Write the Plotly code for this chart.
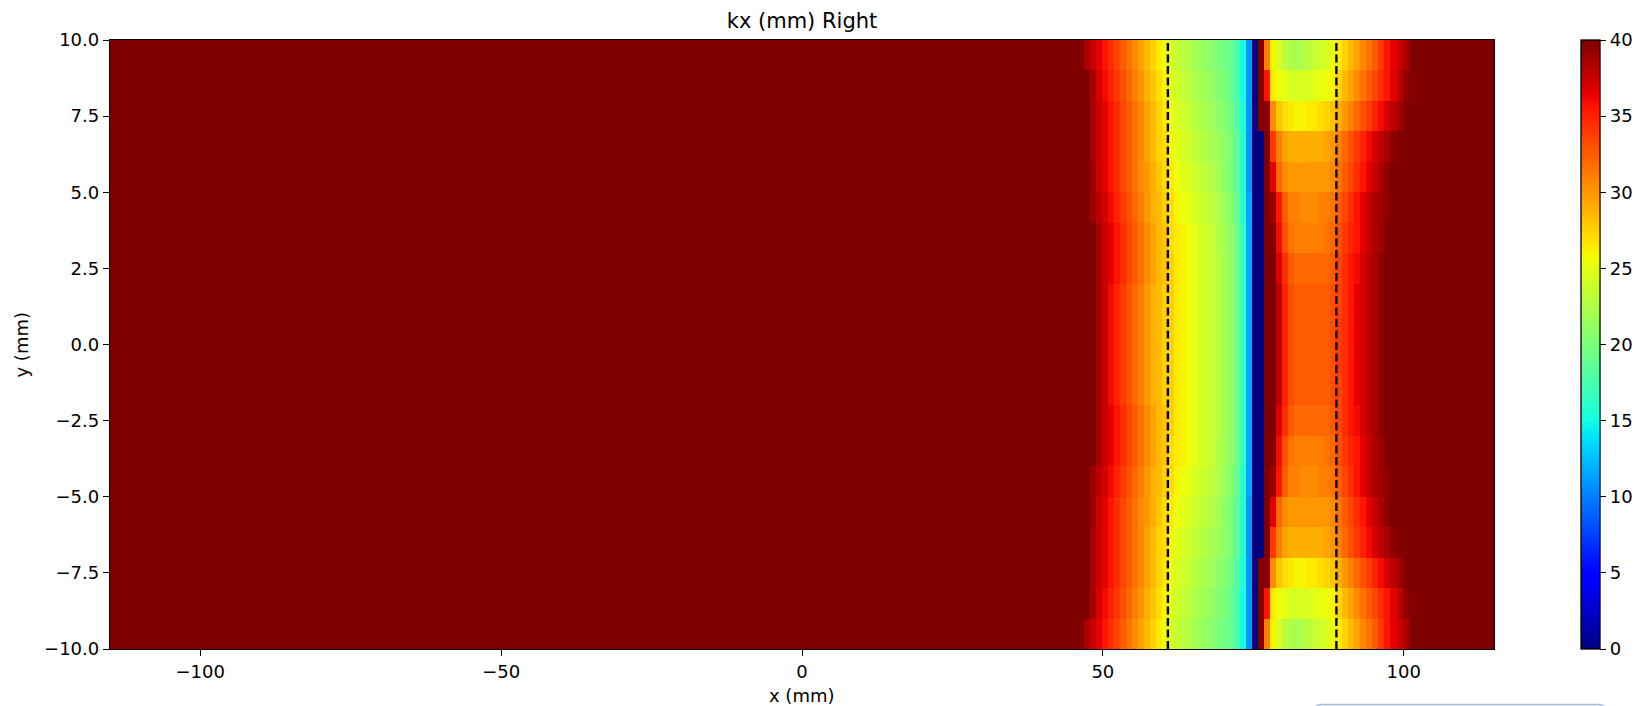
import numpy as np
import plotly.graph_objects as go

# ---------------- text ----------------
title_text = "kx (mm) Right"
x_label = "x (mm)"
y_label = "y (mm)"

x_tick_vals = [-100, -50, 0, 50, 100]
x_tick_text = ["\u2212100", "\u221250", "0", "50", "100"]
y_tick_vals = [-10, -7.5, -5, -2.5, 0, 2.5, 5, 7.5, 10]
y_tick_text = ["\u221210.0", "\u22127.5", "\u22125.0", "\u22122.5", "0.0", "2.5", "5.0", "7.5", "10.0"]
cbar_tick_vals = [0, 5, 10, 15, 20, 25, 30, 35, 40]

x_range = [-115, 115]
y_range = [-10, 10]
z_min, z_max = 0, 40

# vertical dashed markers (mm)
dashed_lines_x = [60.8, 88.8]

# ---------------- data ----------------
# value outside the band (saturated, dark red)
background_value = 40
# first column (mm) of the explicit band values below; columns are 1 mm wide
band_first_col = 46

# explicit values for columns 46 .. 102, rows from top edge (y=9.5) to centre (y=0.5)
row_y9_5 = [40, 38.5, 37.5, 36.5, 35.5, 34.5, 33.5, 32.5, 31.5, 30.5, 29.5, 28.5, 27.5, 26.5, 25.5,
            24.5, 23.5, 23, 22.5, 22, 21.5, 21, 20.5, 20, 19.5, 19, 17.5, 15, 11,
            0, 40, 31,
            26, 24.5, 23, 22.5, 22, 22.5, 23, 23.5, 24, 24.5, 25.5, 26.5, 27.5, 28.5, 29.5, 30.5, 31.5, 32.5,
            34, 35.5, 36.5, 37.5, 38.5, 40, 40]
row_y8_5 = [40, 40, 38.5, 37, 36, 35, 34, 33, 32, 31, 30, 29, 28, 27, 26,
            25, 24, 23.5, 23, 22.5, 22, 21.5, 21, 20.5, 20, 19, 17.5, 15, 11,
            0, 40, 35.5,
            26.5, 25.5, 25, 24.5, 24.5, 24.5, 24.5, 25, 25, 25.5, 26, 27.5, 28.5, 29.5, 30.5, 31.5, 32.5, 33.5,
            34.5, 35.5, 36.5, 38, 39.5, 40, 40]
row_y7_5 = [40, 40, 38.5, 37.5, 36.5, 35.5, 34.5, 33.5, 32.5, 31.5, 30.5, 29.5, 28.5, 27.5, 26.5,
            25.5, 24.5, 24, 23.5, 23, 22.5, 22, 21.5, 21, 20.5, 19.5, 18, 15.5, 11,
            0, 40, 39.5,
            30.5, 28, 27, 26.5, 26, 26, 26.5, 26.5, 27, 27.5, 28, 29, 30, 31, 32, 33, 34, 35,
            36, 37, 38, 39, 40, 40, 40]
row_y6_5 = [40, 40, 38.5, 37.5, 36.5, 35.5, 34.5, 33.5, 32.5, 31.5, 30.5, 29.5, 28.5, 27.5, 27,
            26, 25, 24.5, 24, 23.5, 23, 22.5, 22, 21.5, 21, 20, 18.5, 16, 11,
            0, 0, 40,
            34, 31, 29.5, 29, 29, 29, 29, 29, 29, 29.5, 30, 31, 32, 33, 34, 35, 36, 37,
            38, 38.5, 39.5, 40, 40, 40, 40]
row_y5_5 = [40, 40, 39, 37.5, 36.5, 35.5, 34.5, 33.5, 32.5, 31.5, 30.5, 30, 29, 28, 27,
            26.5, 25.5, 25, 24.5, 24, 23.5, 23, 22.5, 22, 21, 20, 18.5, 16, 11,
            0, 0, 40,
            36.5, 32, 30.5, 30, 30, 30, 30, 30, 30, 30, 30.5, 31.5, 32.5, 33.5, 34.5, 35.5, 36.5, 37.5,
            38.5, 39.5, 40, 40, 40, 40, 40]
row_y4_5 = [40, 40, 39, 38, 37, 36, 35, 34, 33, 32, 31, 30, 29, 28.5, 27.5,
            27, 26, 25.5, 25, 24.5, 24, 23.5, 23, 22.5, 21.5, 20.5, 19, 16, 11.5,
            0, 0, 40,
            39, 35.5, 32.5, 31, 31, 30.5, 30.5, 30.5, 31, 31, 31.5, 32.5, 33.5, 34.5, 35.5, 36.5, 37.5, 38.5,
            39, 39.5, 40, 40, 40, 40, 40]
row_y3_5 = [40, 40, 40, 38.5, 37.5, 36.5, 35.5, 34.5, 33.5, 32.5, 31.5, 30.5, 29.5, 28.5, 28,
            27, 26.5, 26, 25.5, 25, 24.5, 24, 23.5, 22.5, 22, 21, 19.5, 16.5, 11.5,
            0, 0, 40,
            40, 36, 33, 31.5, 31, 31, 31, 31, 31, 31.5, 32, 33, 34, 35, 35.5, 36.5, 37.5, 38.5,
            39, 40, 40, 40, 40, 40, 40]
row_y2_5 = [40, 40, 40, 38.5, 37.5, 36.5, 35.5, 34.5, 33.5, 32.5, 31.5, 30.5, 29.5, 28.5, 28,
            27.5, 26.5, 26, 25.5, 25, 24.5, 24, 23.5, 23, 22, 21, 19.5, 16.5, 11.5,
            0, 0, 40,
            40, 37, 34.5, 32.5, 32, 32, 32, 32, 32, 32, 32.5, 33.5, 34.5, 35.5, 36, 37, 38, 38.5,
            39.5, 40, 40, 40, 40, 40, 40]
row_y1_5 = [40, 40, 40, 38.5, 37.5, 36, 35, 34, 33, 32, 31, 30, 29, 28.5, 27.5,
            27.5, 26.5, 26, 25.5, 25, 24.5, 24, 23.5, 23, 22, 21, 19.5, 16.5, 11.5,
            0, 0, 40,
            40, 38, 35, 33, 32.5, 32.5, 32.5, 32.5, 32.5, 32.5, 33, 33.5, 34.5, 35.5, 36.5, 37, 38, 38.5,
            39.5, 40, 40, 40, 40, 40, 40]
row_y0_5 = [40, 40, 40, 38.5, 37.5, 36, 35, 34, 33, 32, 31, 30, 29, 28.5, 27.5,
            27.5, 26.5, 26, 25.5, 25, 24.5, 24, 23.5, 23, 22, 21, 19.5, 16.5, 11.5,
            0, 0, 40,
            40, 38, 35, 33, 32.5, 32.5, 32.5, 32.5, 32.5, 32.5, 33, 34, 34.5, 35.5, 36.5, 37, 38, 38.5,
            39.5, 40, 40, 40, 40, 40, 40]

# rows listed bottom (y=-9.5) to top (y=9.5); the field is mirror-symmetric about y=0
rows_bottom_to_top = [row_y9_5, row_y8_5, row_y7_5, row_y6_5, row_y5_5,
                      row_y4_5, row_y3_5, row_y2_5, row_y1_5, row_y0_5,
                      row_y0_5, row_y1_5, row_y2_5, row_y3_5, row_y4_5,
                      row_y5_5, row_y6_5, row_y7_5, row_y8_5, row_y9_5]

# ---------------- grid ----------------
cell_edge_offset = -0.2          # pixel edges sit 0.2 mm left of integer mm
x_first_col = -115
n_cols = 231
x_centers = x_first_col + cell_edge_offset + 0.5 + np.arange(n_cols)
y_centers = np.arange(-9.5, 10, 1.0)

z = []
start = band_first_col - x_first_col
for row in rows_bottom_to_top:
    full = [background_value] * n_cols
    full[start:start + len(row)] = row
    z.append(full)


# matplotlib "jet" colour map
def mpl_jet():
    r_pts = [(0, 0), (0.35, 0), (0.66, 1), (0.89, 1), (1, 0.5)]
    g_pts = [(0, 0), (0.125, 0), (0.375, 1), (0.64, 1), (0.91, 0), (1, 0)]
    b_pts = [(0, 0.5), (0.11, 1), (0.34, 1), (0.65, 0), (1, 0)]
    stops = sorted(set([p for pts in (r_pts, g_pts, b_pts) for p, _ in pts]))
    out = []
    for s in stops:
        c = []
        for pts in (r_pts, g_pts, b_pts):
            xs, ys = zip(*pts)
            c.append(int(round(255 * float(np.interp(s, xs, ys)))))
        out.append([s, "rgb(%d,%d,%d)" % tuple(c)])
    return out


# ---------------- layout geometry (pixels) ----------------
W, H = 1647, 706
plot_l, plot_r, plot_t, plot_b = 110, 1494, 40, 649
plot_w = plot_r - plot_l
plot_h = plot_b - plot_t
cbar_left = 1581
font_family = "DejaVu Sans"

fig = go.Figure()
fig.add_trace(go.Heatmap(
    z=z, x=x_centers, y=y_centers,
    colorscale=mpl_jet(), zmin=z_min, zmax=z_max, zsmooth=False,
    hoverinfo="skip",
    colorbar=dict(
        thickness=19, len=1, lenmode="fraction", y=0.5, yanchor="middle",
        x=(cbar_left - plot_l) / plot_w, xanchor="left", xpad=0, ypad=0,
        outlinewidth=1.3, outlinecolor="black",
        ticks="outside", ticklen=6, tickwidth=1.3, tickcolor="black",
        tickvals=cbar_tick_vals, tickfont=dict(size=18, color="black", family=font_family),
    ),
))

for xv in dashed_lines_x:
    fig.add_trace(go.Scatter(
        x=[xv, xv], y=y_range, mode="lines",
        line=dict(color="black", width=2.4, dash="8px,3.5px"),
        showlegend=False, hoverinfo="skip",
    ))

axis_common = dict(
    showline=True, linecolor="black", linewidth=1.3, mirror=True,
    ticks="outside", ticklen=6, tickwidth=1.3, tickcolor="black",
    showgrid=False, zeroline=False,
    tickfont=dict(size=18, color="black", family=font_family),
)
fig.update_xaxes(range=x_range, tickvals=x_tick_vals, ticktext=x_tick_text, **axis_common)
fig.update_yaxes(range=y_range, tickvals=y_tick_vals, ticktext=y_tick_text, **axis_common)

fig.update_layout(
    width=W, height=H,
    margin=dict(l=plot_l, r=W - plot_r, t=plot_t, b=H - plot_b, pad=0),
    paper_bgcolor="white", plot_bgcolor="white",
    font=dict(family=font_family, size=18, color="black"),
    showlegend=False,
    title=dict(text=title_text, x=0.5, xref="paper", xanchor="center",
               y=1 - 21 / H, yref="container", yanchor="middle",
               font=dict(size=21, color="black", family=font_family)),
    annotations=[
        dict(text=x_label, xref="paper", yref="paper", x=0.5, y=(plot_b - 695) / plot_h,
             xanchor="center", yanchor="middle", showarrow=False,
             font=dict(size=18, color="black", family=font_family)),
        dict(text=y_label, xref="paper", yref="paper", x=(21 - plot_l) / plot_w, y=0.5,
             xanchor="center", yanchor="middle", textangle=-90, showarrow=False,
             font=dict(size=18, color="black", family=font_family)),
    ],
)

# faint rounded box edge peeking in at the bottom right of the picture
def px_to_paper(px, py):
    return (px - plot_l) / plot_w, (plot_b - py) / plot_h

bx0, bx1, by_top, by_bot, rad = 1313, 1607, 704.5, 716, 9
pts = [px_to_paper(bx0, by_bot), px_to_paper(bx0, by_top + rad), px_to_paper(bx0, by_top),
       px_to_paper(bx0 + rad, by_top), px_to_paper(bx1 - rad, by_top), px_to_paper(bx1, by_top),
       px_to_paper(bx1, by_top + rad), px_to_paper(bx1, by_bot)]
path = ("M {0[0]},{0[1]} L {1[0]},{1[1]} Q {2[0]},{2[1]} {3[0]},{3[1]} L {4[0]},{4[1]} "
        "Q {5[0]},{5[1]} {6[0]},{6[1]} L {7[0]},{7[1]}").format(*pts)
fig.add_shape(type="path", path=path, xref="paper", yref="paper",
              line=dict(color="rgb(165,185,215)", width=1.5), layer="above")

fig.write_html("out.html")
